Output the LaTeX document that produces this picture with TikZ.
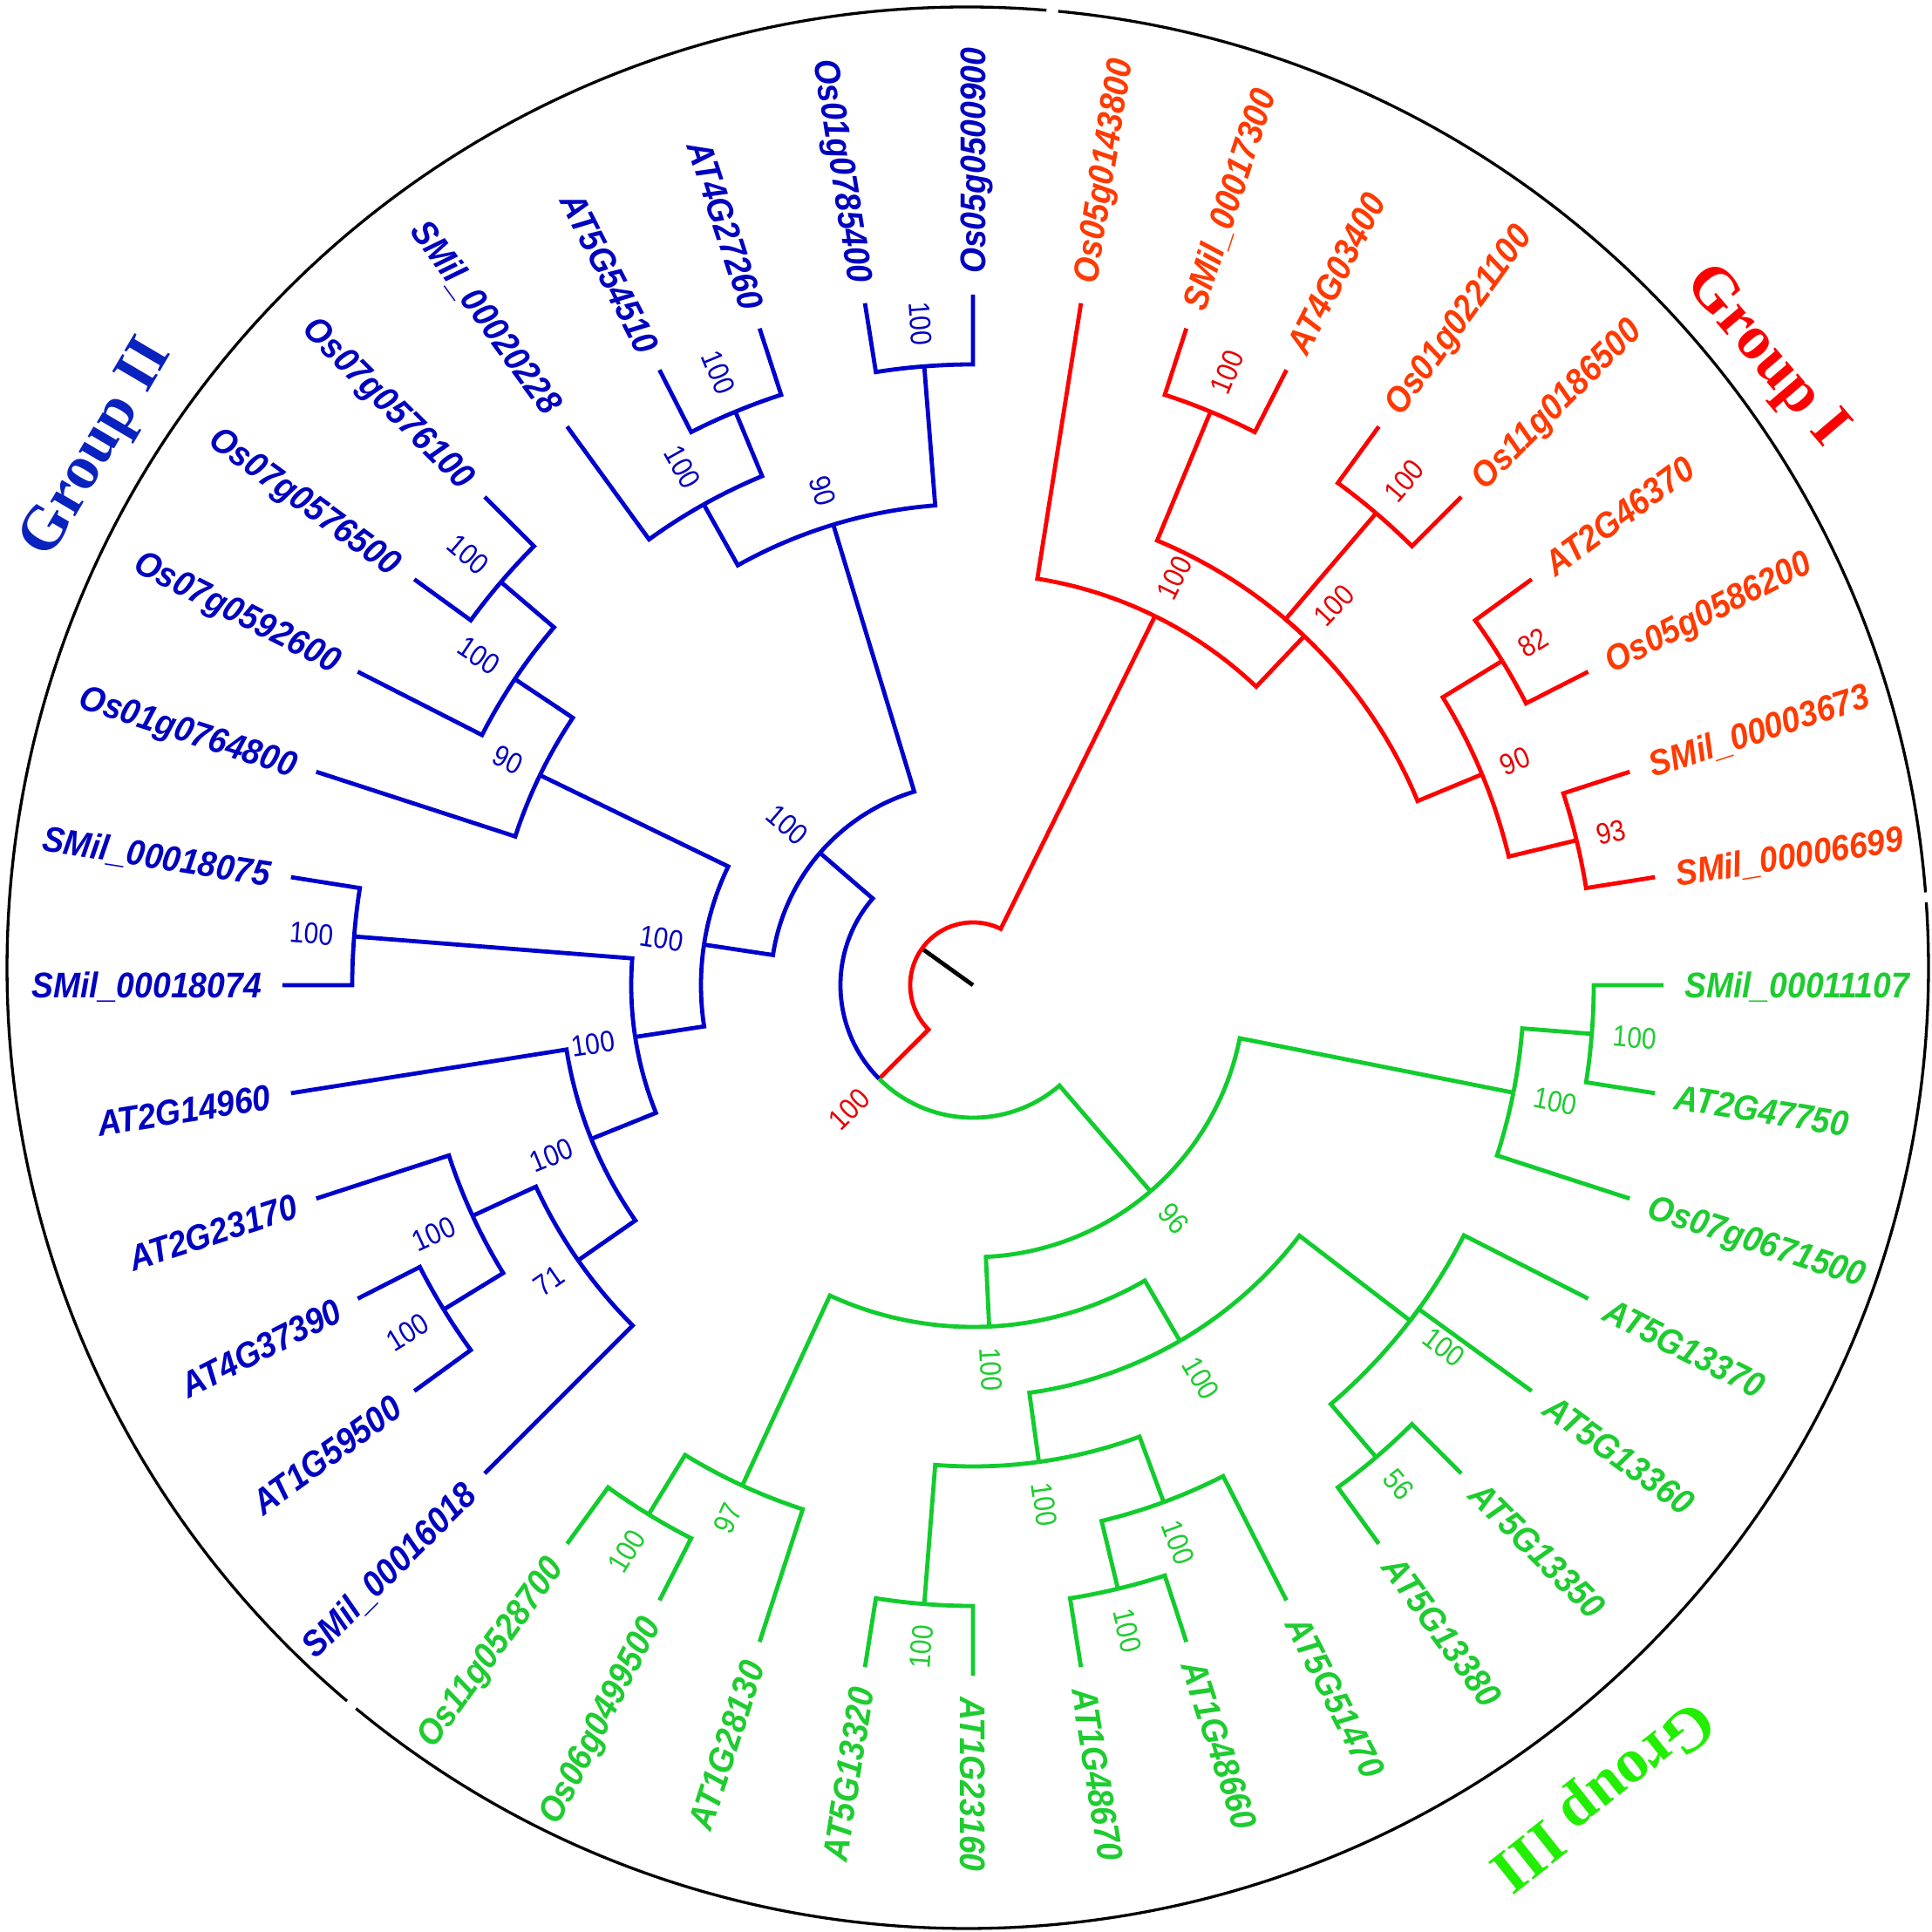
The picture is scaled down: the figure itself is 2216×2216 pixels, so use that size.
\documentclass[tikz,border=0pt]{standalone}
\usepackage{fontspec}
\newfontfamily\leafbase[FakeStretch=0.91]{Liberation Sans}
\newfontfamily\bsbase[FakeStretch=0.88]{Liberation Sans}
\newfontfamily\grpbase{Liberation Serif}
\newcommand\leaffont{\leafbase\bfseries\itshape\fontsize{41}{41}\selectfont}
\newcommand\bsfont{\bsbase\fontsize{34}{34}\selectfont}
\newcommand\grpfont{\grpbase\bfseries\fontsize{72}{72}\selectfont}
\definecolor{rline}{HTML}{FF0000}
\definecolor{rtext}{HTML}{FF3A00}
\definecolor{rboot}{HTML}{E80000}
\definecolor{bline}{HTML}{0000CC}
\definecolor{btext}{HTML}{0000C0}
\definecolor{gline}{HTML}{12CC2E}
\definecolor{gtext}{HTML}{1ECC30}
\definecolor{grpR}{HTML}{FF0000}
\definecolor{grpB}{HTML}{0A22BE}
\definecolor{grpG}{HTML}{22EE00}
\tikzset{
  tree/.style={line width=4.8pt, line join=miter},
  circ/.style={line width=3.3pt, black},
  leaflab/.style={font=\leaffont, inner sep=0pt, text height=29.3pt, text depth=0pt},
  bslab/.style={font=\bsfont, inner sep=0pt, text height=24.3pt, text depth=0pt},
  grplab/.style={font=\grpfont, inner sep=0pt, anchor=center}
}
\newcommand\leafR[4]{\coordinate (#1) at (#2:792pt);
  \node[leaflab, text=#3, rotate=#2, anchor=west] (#1t) at (#2:816pt) {#4};}
\newcommand\leafL[4]{\coordinate (#1) at (#2:792pt);
  \node[leaflab, text=#3, rotate=#2-180, anchor=east] (#1t) at (#2:816pt) {#4};}
\newcommand\inode[3]{\coordinate (#1) at (#2:#3pt);}
\newcommand\br[5]{\draw[tree,#1] (#2:#3pt) arc[start angle=#2,end angle=#4,radius=#3pt] -- (#5);}
\newcommand\bsR[5]{\node[bslab, text=#4, rotate=#2, anchor=west] (#1b) at (#2:#3pt) {#5};}
\newcommand\bsL[5]{\node[bslab, text=#4, rotate=#2-180, anchor=east] (#1b) at (#2:#3pt) {#5};}
\begin{document}
\begin{tikzpicture}
\useasboundingbox (-1116pt,-1086pt) rectangle (1100pt,1130pt);
\fill[white] (-1116pt,-1086pt) rectangle (1100pt,1130pt);

% outer circle (three arcs with gaps)
\begin{scope}[shift={(-6pt,20pt)}]
\draw[circ] (4.5:1102pt) arc[start angle=4.5,end angle=84.6,radius=1102pt];
\draw[circ] (85.3:1102pt) arc[start angle=85.3,end angle=229.75,radius=1102pt];
\draw[circ] (230.45:1102pt) arc[start angle=230.45,end angle=363.9,radius=1102pt];
\end{scope}

% leaves
\leafR{L0}{0}{gtext}{SMil\_00011107}
\leafR{L1}{9}{rtext}{SMil\_00006699}
\leafR{L2}{18}{rtext}{SMil\_00003673}
\leafR{L3}{27}{rtext}{Os05g0586200}
\leafR{L4}{36}{rtext}{AT2G46370}
\leafR{L5}{45}{rtext}{Os11g0186500}
\leafR{L6}{54}{rtext}{Os01g0221100}
\leafR{L7}{63}{rtext}{AT4G03400}
\leafR{L8}{72}{rtext}{SMil\_00017300}
\leafR{L9}{81}{rtext}{Os05g0143800}
\leafR{L10}{90}{btext}{Os05g0500900}
\leafL{L11}{99}{btext}{Os01g0785400}
\leafL{L12}{108}{btext}{AT4G27260}
\leafL{L13}{117}{btext}{AT5G54510}
\leafL{L14}{126}{btext}{SMil\_00020228}
\leafL{L15}{135}{btext}{Os07g0576100}
\leafL{L16}{144}{btext}{Os07g0576500}
\leafL{L17}{153}{btext}{Os07g0592600}
\leafL{L18}{162}{btext}{Os01g0764800}
\leafL{L19}{171}{btext}{SMil\_00018075}
\leafL{L20}{180}{btext}{SMil\_00018074}
\leafL{L21}{189}{btext}{AT2G14960}
\leafL{L22}{198}{btext}{AT2G23170}
\leafL{L23}{207}{btext}{AT4G37390}
\leafL{L24}{216}{btext}{AT1G59500}
\leafL{L25}{225}{btext}{SMil\_00016018}
\leafL{L26}{234}{gtext}{Os11g0528700}
\leafL{L27}{243}{gtext}{Os06g0499500}
\leafL{L28}{252}{gtext}{AT1G28130}
\leafL{L29}{261}{gtext}{AT5G13320}
\leafR{L30}{270}{gtext}{AT1G23160}
\leafR{L31}{279}{gtext}{AT1G48670}
\leafR{L32}{288}{gtext}{AT1G48660}
\leafR{L33}{297}{gtext}{AT5G51470}
\leafR{L34}{306}{gtext}{AT5G13380}
\leafR{L35}{315}{gtext}{AT5G13350}
\leafR{L36}{324}{gtext}{AT5G13360}
\leafR{L37}{333}{gtext}{AT5G13370}
\leafR{L38}{342}{gtext}{Os07g0671500}
\leafR{L39}{351}{gtext}{AT2G47750}

% internal nodes
\coordinate (O) at (0pt,0pt);
\inode{RT}{144.345703}{72}
\inode{A7}{63.75}{472}
\inode{A8}{46.5}{552}
\inode{A1}{67.5}{712}
\inode{A2}{49.5}{712}
\inode{A5}{22.5}{632}
\inode{A3}{31.5}{712}
\inode{A4}{13.5}{712}
\inode{NBG}{224.941406}{152}
\inode{B5}{139.148438}{232}
\inode{B4}{106.875}{552}
\inode{B3}{119.25}{632}
\inode{B2}{112.5}{712}
\inode{B1}{94.5}{712}
\inode{B16}{171.421875}{312}
\inode{B9}{154.125}{552}
\inode{B8}{146.25}{632}
\inode{B7}{139.5}{712}
\inode{B15}{188.71875}{392}
\inode{B10}{175.5}{712}
\inode{B11}{201.9375}{472}
\inode{B14}{214.875}{552}
\inode{B13}{204.75}{632}
\inode{B12}{211.5}{712}
\inode{G3}{310.734375}{312}
\inode{G2}{348.75}{632}
\inode{G1}{355.5}{712}
\inode{G4}{272.71875}{392}
\inode{G6}{245.25}{632}
\inode{G7}{238.5}{712}
\inode{G5}{300.1875}{472}
\inode{G8}{277.875}{552}
\inode{G11}{265.5}{712}
\inode{G12}{290.25}{632}
\inode{G13}{283.5}{712}
\inode{G9}{322.5}{632}
\inode{G10}{310.5}{712}

% root stub
\draw[tree,black] (O) -- (RT);
% root
\br{rline}{144.345703}{72}{63.75}{A7}
\br{rline}{144.345703}{72}{224.941406}{NBG}
% group I
\br{rline}{63.75}{472}{81}{L9}
\br{rline}{63.75}{472}{46.5}{A8}
\br{rline}{46.5}{552}{67.5}{A1}
\br{rline}{46.5}{552}{49.5}{A2}
\br{rline}{46.5}{552}{22.5}{A5}
\br{rline}{67.5}{712}{72}{L8}
\br{rline}{67.5}{712}{63}{L7}
\br{rline}{49.5}{712}{54}{L6}
\br{rline}{49.5}{712}{45}{L5}
\br{rline}{22.5}{632}{31.5}{A3}
\br{rline}{22.5}{632}{13.5}{A4}
\br{rline}{31.5}{712}{36}{L4}
\br{rline}{31.5}{712}{27}{L3}
\br{rline}{13.5}{712}{18}{L2}
\br{rline}{13.5}{712}{9}{L1}
% split of groups II and III
\br{bline}{224.941406}{152}{139.148438}{B5}
\br{gline}{224.941406}{152}{310.734375}{G3}
% group II
\br{bline}{139.148438}{232}{106.875}{B4}
\br{bline}{139.148438}{232}{171.421875}{B16}
\br{bline}{106.875}{552}{119.25}{B3}
\br{bline}{106.875}{552}{94.5}{B1}
\br{bline}{119.25}{632}{112.5}{B2}
\br{bline}{119.25}{632}{126}{L14}
\br{bline}{112.5}{712}{108}{L12}
\br{bline}{112.5}{712}{117}{L13}
\br{bline}{94.5}{712}{90}{L10}
\br{bline}{94.5}{712}{99}{L11}
\br{bline}{171.421875}{312}{154.125}{B9}
\br{bline}{171.421875}{312}{188.71875}{B15}
\br{bline}{154.125}{552}{146.25}{B8}
\br{bline}{154.125}{552}{162}{L18}
\br{bline}{146.25}{632}{139.5}{B7}
\br{bline}{146.25}{632}{153}{L17}
\br{bline}{139.5}{712}{135}{L15}
\br{bline}{139.5}{712}{144}{L16}
\br{bline}{188.71875}{392}{175.5}{B10}
\br{bline}{188.71875}{392}{201.9375}{B11}
\br{bline}{175.5}{712}{171}{L19}
\br{bline}{175.5}{712}{180}{L20}
\br{bline}{201.9375}{472}{189}{L21}
\br{bline}{201.9375}{472}{214.875}{B14}
\br{bline}{214.875}{552}{204.75}{B13}
\br{bline}{214.875}{552}{225}{L25}
\br{bline}{204.75}{632}{198}{L22}
\br{bline}{204.75}{632}{211.5}{B12}
\br{bline}{211.5}{712}{207}{L23}
\br{bline}{211.5}{712}{216}{L24}
% group III
\br{gline}{310.734375}{312}{272.71875}{G4}
\br{gline}{310.734375}{312}{348.75}{G2}
\br{gline}{348.75}{632}{355.5}{G1}
\br{gline}{348.75}{632}{342}{L38}
\br{gline}{355.5}{712}{351}{L39}
\br{gline}{355.5}{712}{360}{L0}
\br{gline}{272.71875}{392}{245.25}{G6}
\br{gline}{272.71875}{392}{300.1875}{G5}
\br{gline}{245.25}{632}{238.5}{G7}
\br{gline}{245.25}{632}{252}{L28}
\br{gline}{238.5}{712}{234}{L26}
\br{gline}{238.5}{712}{243}{L27}
\br{gline}{300.1875}{472}{277.875}{G8}
\br{gline}{300.1875}{472}{322.5}{G9}
\br{gline}{277.875}{552}{265.5}{G11}
\br{gline}{277.875}{552}{290.25}{G12}
\br{gline}{265.5}{712}{261}{L29}
\br{gline}{265.5}{712}{270}{L30}
\br{gline}{290.25}{632}{283.5}{G13}
\br{gline}{290.25}{632}{297}{L33}
\br{gline}{283.5}{712}{279}{L31}
\br{gline}{283.5}{712}{288}{L32}
\br{gline}{322.5}{632}{333}{L37}
\br{gline}{322.5}{632}{324}{L36}
\br{gline}{322.5}{632}{310.5}{G10}
\br{gline}{310.5}{712}{315}{L35}
\br{gline}{310.5}{712}{306}{L34}

% bootstrap values
\bsR{A1}{67.5}{736}{rboot}{100}
\bsR{A2}{49.5}{736}{rboot}{100}
\bsR{A3}{31.5}{736}{rboot}{82}
\bsR{A4}{13.5}{736}{rboot}{93}
\bsR{A5}{22.5}{656}{rboot}{90}
\bsR{A8}{46.5}{576}{rboot}{100}
\bsR{A7}{63.75}{496}{rboot}{100}
\bsL{NBG}{224.941406}{176}{rboot}{100}
\bsL{B1}{94.5}{736}{btext}{100}
\bsL{B2}{112.5}{736}{btext}{100}
\bsL{B3}{119.25}{656}{btext}{100}
\bsL{B4}{106.875}{576}{btext}{90}
\bsL{B5}{139.148438}{256}{btext}{100}
\bsL{B7}{139.5}{736}{btext}{100}
\bsL{B8}{146.25}{656}{btext}{100}
\bsL{B9}{154.125}{576}{btext}{90}
\bsL{B10}{175.5}{736}{btext}{100}
\bsL{B11}{201.9375}{496}{btext}{100}
\bsL{B12}{211.5}{736}{btext}{100}
\bsL{B13}{204.75}{656}{btext}{100}
\bsL{B14}{214.875}{576}{btext}{71}
\bsL{B15}{188.71875}{416}{btext}{100}
\bsL{B16}{171.421875}{336}{btext}{100}
\bsR{G1}{355.5}{736}{gtext}{100}
\bsR{G2}{348.75}{656}{gtext}{100}
\bsR{G3}{310.734375}{336}{gtext}{96}
\bsR{G4}{272.71875}{416}{gtext}{100}
\bsR{G5}{300.1875}{496}{gtext}{100}
\bsL{G6}{245.25}{656}{gtext}{97}
\bsL{G7}{238.5}{736}{gtext}{100}
\bsR{G8}{277.875}{576}{gtext}{100}
\bsR{G9}{322.5}{656}{gtext}{100}
\bsR{G10}{310.5}{736}{gtext}{56}
\bsL{G11}{265.5}{736}{gtext}{100}
\bsR{G12}{290.25}{656}{gtext}{100}
\bsR{G13}{283.5}{736}{gtext}{100}

% group labels
\node[grplab, text=grpR, rotate=-49.6] (grpI) at (908pt,720pt) {Group I};
\node[grplab, text=grpB, rotate=59.5] (grpII) at (-1003pt,615pt) {Group II};
\node[grplab, text=grpG, rotate=218.5] (grpIII) at (719pt,-926pt) {Group III};
\end{tikzpicture}
\end{document}
